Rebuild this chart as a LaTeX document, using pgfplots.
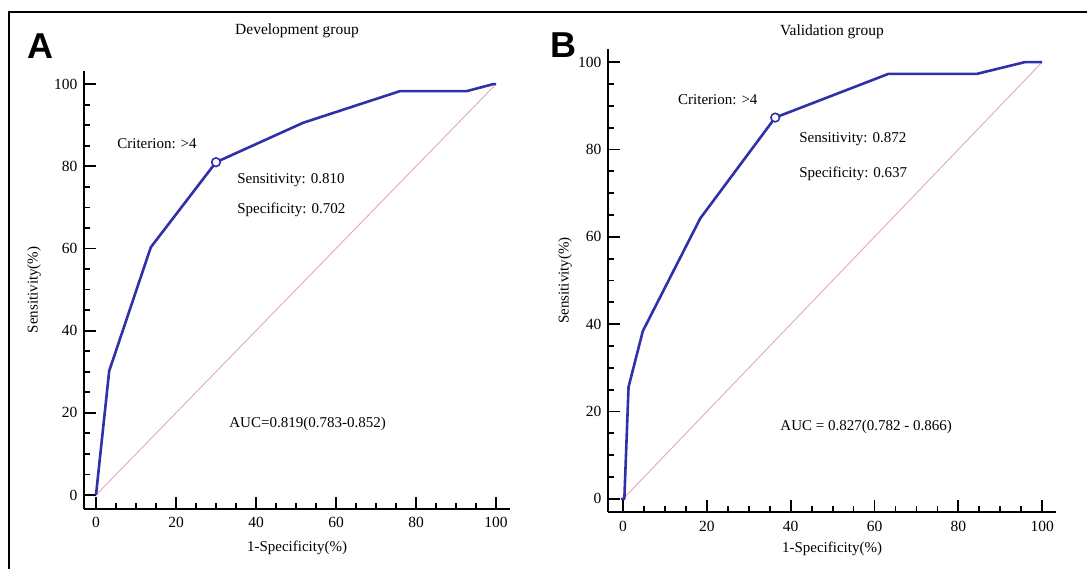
\documentclass[border=0pt]{standalone}
\usepackage{fontspec}
\setmainfont{Liberation Serif}
\newfontfamily\panelfont{Liberation Sans}
\usepackage{pgfplots}
\pgfplotsset{compat=1.18}

\definecolor{rocblue}{RGB}{48,48,168}
\definecolor{diagpink}{RGB}{228,170,176}

\pgfplotsset{
  rocaxis/.style={
    scale only axis,
    axis lines=left,
    axis line style={-, line width=2.4pt},
    tick align=inside,
    major tick length=12pt,
    minor tick length=6pt,
    every tick/.style={line width=1.8pt, black},
    xtick={0,20,...,100}, ytick={0,20,...,100},
    minor x tick num=3, minor y tick num=3,
    /pgf/number format/assume math mode=true,
    tick label style={font=\fontsize{15.5}{18}\selectfont},
    yticklabel style={xshift=-3pt},
    label style={font=\fontsize{15}{18}\selectfont},
    title style={font=\fontsize{15.5}{18}\selectfont, anchor=center},
    clip=false,
  },
}
\tikzset{txt/.style={anchor=west, inner sep=0pt, font=\fontsize{15}{18}\selectfont}}

\begin{document}
\begin{tikzpicture}[x=1pt,y=1pt]
\path[use as bounding box] (0,0) rectangle (1087,569);
% outer frame (top and left edges visible)
\draw[line width=2.4pt] (9,0) -- (9,557) -- (1087,557);

\node[font=\panelfont\bfseries\fontsize{36}{40}\selectfont, inner sep=0pt] at (40,523) {A};
\node[font=\panelfont\bfseries\fontsize{36}{40}\selectfont, inner sep=0pt] at (563,524) {B};

% ---- A: development group
\begin{axis}[rocaxis,
  at={(84pt,60pt)}, anchor=south west,
  width=426pt, height=438pt,
  xmin=-3, xmax=103.5, ymin=-3.4, ymax=103.2,
  title={Development group},
  title style={at={(0.5,1)}, yshift=34pt},
  xticklabel style={yshift=-5pt},
  xlabel={1-Specificity(\%)},
  xlabel style={at={(0.5,0)}, anchor=center, yshift=-39pt},
  ylabel={Sensitivity(\%)},
  ylabel style={at={(0,0.5)}, anchor=center, yshift=50pt},
]
\addplot[diagpink, line width=0.9pt] coordinates {(0,0) (100,100)};
\addplot[rocblue, line width=2.6pt, line join=round] coordinates {
  (0,0) (3.3,30.2) (13.7,60.3) (30,81) (51.8,90.6) (76,98.3) (92.7,98.3) (99.3,100) (100,100)};
\addplot[rocblue, line width=1.6pt, mark=*, mark size=4.3pt,
  mark options={fill=white}, only marks] coordinates {(30,81)};
\node[txt] at (axis cs:5.3,85.4) {Criterion: >4};
\node[txt] at (axis cs:35.3,76.6) {Sensitivity: 0.810};
\node[txt] at (axis cs:35.3,69.3) {Specificity: 0.702};
\node[txt] at (axis cs:33.3,17.3) {AUC=0.819(0.783-0.852)};
\end{axis}

% ---- B: validation group
\begin{axis}[rocaxis,
  at={(608pt,57pt)}, anchor=south west,
  width=448pt, height=463pt,
  xmin=-3.6, xmax=103.3, ymin=-3.0, ymax=103,
  title={Validation group},
  title style={at={(0.5,1)}, yshift=11pt},
  xticklabel style={yshift=-6pt},
  xlabel={1-Specificity(\%)},
  xlabel style={at={(0.5,0)}, anchor=center, yshift=-37pt},
  ylabel={Sensitivity(\%)},
  ylabel style={at={(0,0.5)}, anchor=center, yshift=43pt},
]
\addplot[diagpink, line width=0.9pt] coordinates {(0,0) (100,100)};
\addplot[rocblue, line width=2.6pt, line join=round] coordinates {
  (-0.5,0) (0.3,0) (1.3,25.6) (4.7,38.4) (18.4,64.2) (36.3,87.3) (63.3,97.3) (84.4,97.3) (95.9,100) (100,100)};
\addplot[rocblue, line width=1.6pt, mark=*, mark size=4.3pt,
  mark options={fill=white}, only marks] coordinates {(36.3,87.3)};
\node[txt] at (axis cs:13.1,91.3) {Criterion: >4};
\node[txt] at (axis cs:42,82.4) {Sensitivity: 0.872};
\node[txt] at (axis cs:42,74.4) {Specificity: 0.637};
\node[txt] at (axis cs:37.5,16.5) {AUC = 0.827(0.782 - 0.866)};
\end{axis}
\end{tikzpicture}
\end{document}
